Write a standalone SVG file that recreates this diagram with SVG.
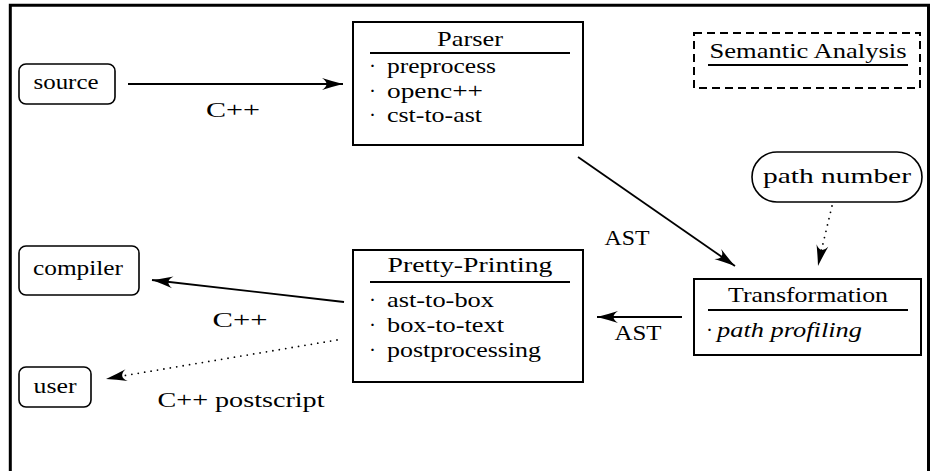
<svg xmlns="http://www.w3.org/2000/svg" width="935" height="471" viewBox="0 0 935 471" font-family="'Liberation Serif', 'DejaVu Serif', serif">
<defs>
<style>
text{font-family:'Liberation Serif','DejaVu Serif','Times New Roman',serif;font-size:21px;fill:#000}
.box{fill:#fff;stroke:#000;stroke-width:2}
.rbox{fill:#fff;stroke:#000;stroke-width:1.6}
.rule{stroke:#000;stroke-width:2}
.edge{fill:none;stroke:#000;stroke-width:1.8}
.dot{fill:none;stroke:#000;stroke-width:1.8;stroke-linecap:round;stroke-dasharray:0 6.5}
.it{font-style:italic}
</style>
<marker id="ah" viewBox="-22 -8 24 16" refX="0" refY="0" markerWidth="24" markerHeight="16" markerUnits="userSpaceOnUse" orient="auto">
<path d="M0,0 Q-10,-2.5 -21,-6 Q-12,0 -21,6 Q-10,2.5 0,0 Z" fill="#000"/>
</marker>
</defs>
<rect width="935" height="471" fill="#fff"/>
<path d="M10.3,471 V5.3 H928.5 V471" fill="none" stroke="#000" stroke-width="3"/>

<g id="connectors">
<line class="edge" x1="128" y1="84" x2="343" y2="84" marker-end="url(#ah)"/>
<text x="233" y="117" text-anchor="middle" textLength="54" lengthAdjust="spacingAndGlyphs">C++</text>
<line class="edge" x1="578" y1="157" x2="735" y2="266" marker-end="url(#ah)"/>
<text x="627" y="245" text-anchor="middle" textLength="45" lengthAdjust="spacingAndGlyphs">AST</text>
<line class="dot" x1="832" y1="206" x2="821" y2="252"/>
<line class="edge" x1="821" y1="252" x2="818" y2="266" stroke-opacity="0" marker-end="url(#ah)"/>
<line class="edge" x1="682" y1="317" x2="597" y2="317" marker-end="url(#ah)"/>
<text x="638" y="340" text-anchor="middle" textLength="47" lengthAdjust="spacingAndGlyphs">AST</text>
<line class="edge" x1="344" y1="302" x2="152" y2="280" marker-end="url(#ah)"/>
<text x="240" y="327" text-anchor="middle" textLength="55" lengthAdjust="spacingAndGlyphs">C++</text>
<line class="dot" x1="337" y1="340" x2="122" y2="376"/>
<line class="edge" x1="122" y1="376" x2="106" y2="379" stroke-opacity="0" marker-end="url(#ah)"/>
<text x="241" y="407" text-anchor="middle" textLength="167" lengthAdjust="spacingAndGlyphs">C++ postscript</text>
</g>

<g id="source">
<rect class="rbox" x="19" y="64" width="96" height="40" rx="7"/>
<text x="66" y="89" text-anchor="middle" textLength="65" lengthAdjust="spacingAndGlyphs">source</text>
</g>

<g id="parser">
<rect class="box" x="353" y="22" width="230" height="123"/>
<text x="470" y="46" text-anchor="middle" textLength="66" lengthAdjust="spacingAndGlyphs">Parser</text>
<line class="rule" x1="370" y1="53" x2="570" y2="53"/>
<text x="369" y="73">·</text>
<text x="387" y="73" textLength="109" lengthAdjust="spacingAndGlyphs">preprocess</text>
<text x="369" y="98">·</text>
<text x="387" y="98" textLength="96" lengthAdjust="spacingAndGlyphs">openc++</text>
<text x="369" y="122">·</text>
<text x="387" y="122" textLength="95" lengthAdjust="spacingAndGlyphs">cst-to-ast</text>
</g>

<g id="semantic-analysis">
<rect x="694" y="33" width="226" height="55" fill="none" stroke="#000" stroke-width="2" stroke-dasharray="8 5"/>
<text x="808" y="58" text-anchor="middle" textLength="197" lengthAdjust="spacingAndGlyphs">Semantic Analysis</text>
<line class="rule" x1="708" y1="65" x2="908" y2="65"/>
</g>

<g id="path-number">
<rect class="rbox" x="752" y="152" width="170" height="50" rx="25"/>
<text x="837" y="183" text-anchor="middle" textLength="148" lengthAdjust="spacingAndGlyphs">path number</text>
</g>

<g id="transformation">
<rect class="box" x="694" y="279" width="227" height="76"/>
<text x="808" y="302" text-anchor="middle" textLength="160" lengthAdjust="spacingAndGlyphs">Transformation</text>
<line class="rule" x1="708" y1="310" x2="908" y2="310"/>
<text x="706" y="337">·</text>
<text class="it" x="717" y="337" textLength="145" lengthAdjust="spacingAndGlyphs">path profiling</text>
</g>

<g id="pretty-printing">
<rect class="box" x="353" y="250" width="230" height="132"/>
<text x="470" y="272" text-anchor="middle" textLength="165" lengthAdjust="spacingAndGlyphs">Pretty-Printing</text>
<line class="rule" x1="370" y1="282" x2="570" y2="282"/>
<text x="369" y="307">·</text>
<text x="387" y="307" textLength="107" lengthAdjust="spacingAndGlyphs">ast-to-box</text>
<text x="369" y="332">·</text>
<text x="387" y="332" textLength="117" lengthAdjust="spacingAndGlyphs">box-to-text</text>
<text x="369" y="357">·</text>
<text x="387" y="357" textLength="154" lengthAdjust="spacingAndGlyphs">postprocessing</text>
</g>

<g id="compiler">
<rect class="rbox" x="19" y="246" width="120" height="49" rx="7"/>
<text x="78" y="275" text-anchor="middle" textLength="90" lengthAdjust="spacingAndGlyphs">compiler</text>
</g>

<g id="user">
<rect class="rbox" x="19" y="367" width="72" height="40" rx="7"/>
<text x="55" y="393" text-anchor="middle" textLength="43" lengthAdjust="spacingAndGlyphs">user</text>
</g>
</svg>
